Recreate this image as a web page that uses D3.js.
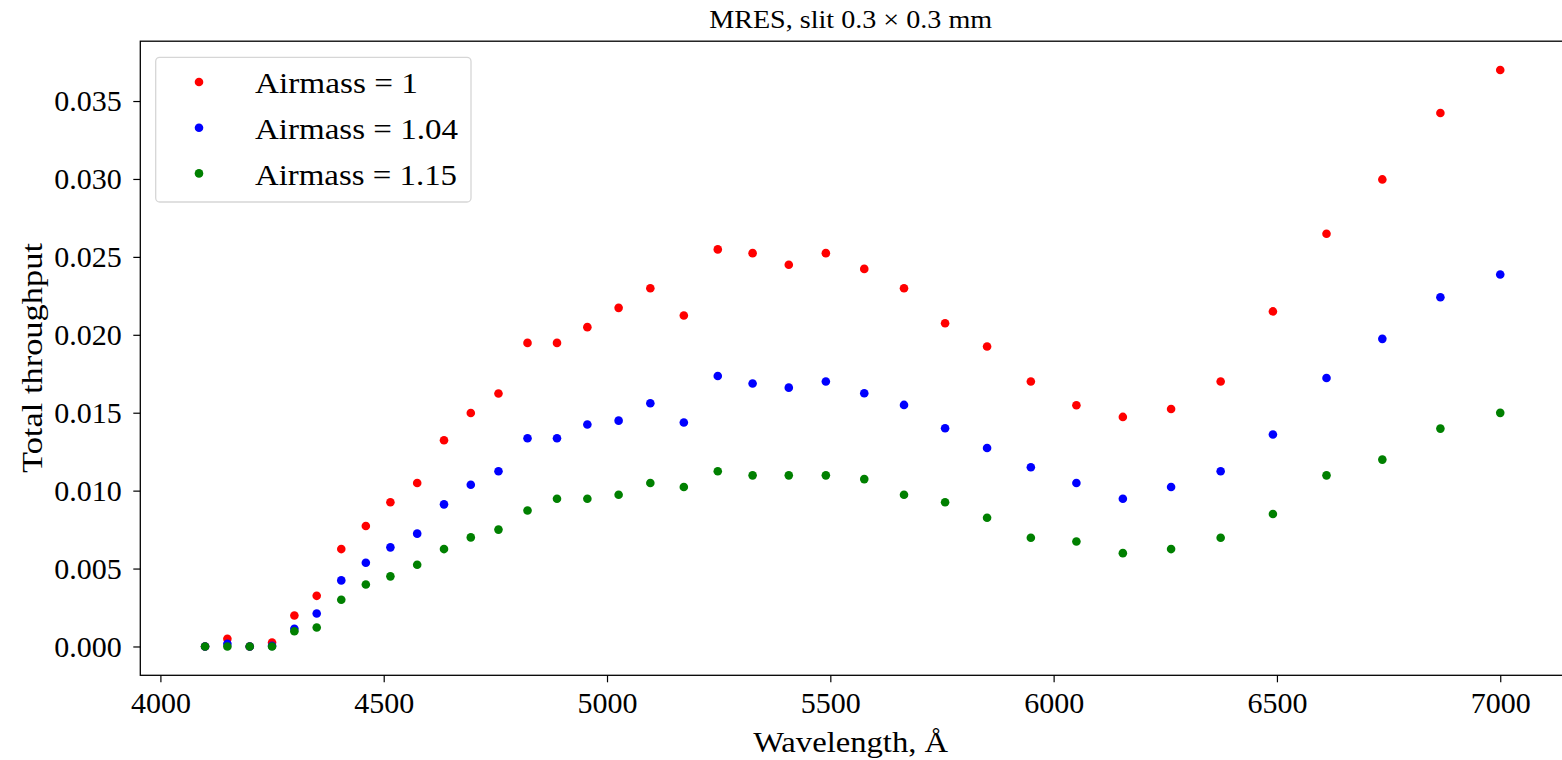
<!DOCTYPE html>
<html>
<head>
<meta charset="utf-8">
<style>
  body { margin: 0; background: #fff; }
  svg text { font-family: "Liberation Serif", "Times New Roman", serif; fill: #000; }
</style>
</head>
<body>
<svg width="1562" height="760"></svg>
<script src="https://d3js.org/d3.v7.min.js"></script>
<script>

// wavelength grid, Angstrom
var wavelength = [4100, 4150, 4200, 4250, 4300, 4350, 4405, 4460, 4515, 4575, 4635, 4695, 4757,
  4822, 4888, 4956, 5026, 5097, 5172, 5248, 5326, 5407, 5490, 5576, 5665, 5757, 5851,
  5949, 6051, 6155, 6263, 6374, 6491, 6611, 6736, 6866, 7000];

var airmass1 = [0, 0.00049, 0, 0.00026, 0.00199, 0.00325, 0.00625, 0.00773, 0.00925, 0.01049,
  0.01323, 0.01498, 0.01623, 0.01948, 0.01948, 0.02049, 0.02173, 0.02299, 0.02124, 0.02548,
  0.02524, 0.02449, 0.02524, 0.02423, 0.02299, 0.02074, 0.01925, 0.01700, 0.01548, 0.01473,
  0.01524, 0.01700, 0.02150, 0.02648, 0.02997, 0.03423, 0.03699];

var airmass104 = [0, 0.00017, 0, 0.00004, 0.00114, 0.00212, 0.00424, 0.00537, 0.00636, 0.00724,
  0.00912, 0.01038, 0.01124, 0.01336, 0.01336, 0.01424, 0.01449, 0.01561, 0.01437, 0.01736,
  0.01687, 0.01661, 0.01700, 0.01625, 0.01550, 0.01400, 0.01274, 0.01150, 0.01049, 0.00948,
  0.01023, 0.01124, 0.01360, 0.01723, 0.01974, 0.02241, 0.02387];

var airmass115 = [0, 0, 0, 0, 0.00098, 0.00122, 0.00300, 0.00398, 0.00450, 0.00524,
  0.00625, 0.00700, 0.00750, 0.00873, 0.00948, 0.00948, 0.00974, 0.01049, 0.01023, 0.01124,
  0.01098, 0.01098, 0.01098, 0.01074, 0.00974, 0.00925, 0.00826, 0.00698, 0.00674, 0.00599,
  0.00625, 0.00698, 0.00850, 0.01098, 0.01199, 0.01398, 0.01499];

var seriesNames = ["Airmass = 1", "Airmass = 1.04", "Airmass = 1.15"];
var seriesColors = ["#ff0000", "#0000ff", "#008000"];
var xTicks = [4000, 4500, 5000, 5500, 6000, 6500, 7000];
var yTicks = [0, 0.005, 0.010, 0.015, 0.020, 0.025, 0.030, 0.035];

(function() {
  var series = [airmass1, airmass104, airmass115];

  var svg = d3.select("svg");
  var plotLeft = 140.3, plotRight = 1565, plotTop = 41.2, plotBottom = 675.3;
  var midX = (plotLeft + 1561) / 2;

  // matplotlib-like 5% margins around the data
  function padded(ext) {
    var p = (ext[1] - ext[0]) * 0.05;
    return [ext[0] - p, ext[1] + p];
  }
  var allY = d3.merge(series);

  var x = d3.scaleLinear().domain(padded(d3.extent(wavelength))).range([plotLeft, plotRight]);
  var y = d3.scaleLinear().domain(padded(d3.extent(allY))).range([plotBottom, plotTop]);

  // points
  series.forEach(function(vals, k) {
    svg.append("g").selectAll("circle")
      .data(vals)
      .enter().append("circle")
        .attr("cx", function(d, i) { return x(wavelength[i]); })
        .attr("cy", function(d) { return y(d); })
        .attr("r", 4.3)
        .attr("fill", seriesColors[k]);
  });

  // frame
  svg.append("rect")
    .attr("x", plotLeft).attr("y", plotTop)
    .attr("width", plotRight - plotLeft).attr("height", plotBottom - plotTop)
    .attr("fill", "none").attr("stroke", "#000").attr("stroke-width", 1.3);

  var xAxis = svg.append("g")
    .attr("transform", "translate(0," + plotBottom + ")")
    .call(d3.axisBottom(x).tickValues(xTicks).tickSize(7).tickFormat(d3.format("d")));

  xAxis.select(".domain").remove();
  xAxis.selectAll(".tick line").attr("stroke-width", 1.2);
  xAxis.selectAll(".tick text")
    .attr("dy", null).attr("y", 37.5)
    .style("font-size", "30px");

  var yAxis = svg.append("g")
    .attr("transform", "translate(" + plotLeft + ",0)")
    .call(d3.axisLeft(y).tickValues(yTicks).tickSize(7).tickPadding(11.5).tickFormat(d3.format(".3f")));

  yAxis.select(".domain").remove();
  yAxis.selectAll(".tick line").attr("stroke-width", 1.2);
  yAxis.selectAll(".tick text").style("font-size", "30px");

  // title and axis labels
  svg.append("text")
    .attr("x", midX).attr("y", 28)
    .attr("text-anchor", "middle")
    .attr("textLength", 283).attr("lengthAdjust", "spacingAndGlyphs")
    .style("font-size", "26px")
    .text("MRES, slit 0.3 \u00d7 0.3 mm");

  svg.append("text")
    .attr("x", midX).attr("y", 752)
    .attr("text-anchor", "middle")
    .attr("textLength", 195).attr("lengthAdjust", "spacingAndGlyphs")
    .style("font-size", "30px")
    .text("Wavelength, \u00c5");

  svg.append("text")
    .attr("transform", "translate(42,358) rotate(-90)")
    .attr("text-anchor", "middle")
    .attr("textLength", 230).attr("lengthAdjust", "spacingAndGlyphs")
    .style("font-size", "30px")
    .text("Total throughput");

  // legend
  var legend = svg.append("g");
  legend.append("rect")
    .attr("x", 155.7).attr("y", 57.3)
    .attr("width", 315.3).attr("height", 144.7)
    .attr("rx", 4).attr("ry", 4)
    .attr("fill", "#fff").attr("fill-opacity", 0.8)
    .attr("stroke", "#d6d6d6").attr("stroke-width", 1.3);

  var legendWidths = [163, 203, 202];
  seriesNames.forEach(function(name, k) {
    var cy = 82 + k * 45.7;
    legend.append("circle")
      .attr("cx", 199).attr("cy", cy).attr("r", 4.3)
      .attr("fill", seriesColors[k]);
    legend.append("text")
      .attr("x", 255).attr("y", cy + 11.3)
      .attr("textLength", legendWidths[k]).attr("lengthAdjust", "spacingAndGlyphs")
      .style("font-size", "30px")
      .text(name);
  });
})();

</script>
</body>
</html>
